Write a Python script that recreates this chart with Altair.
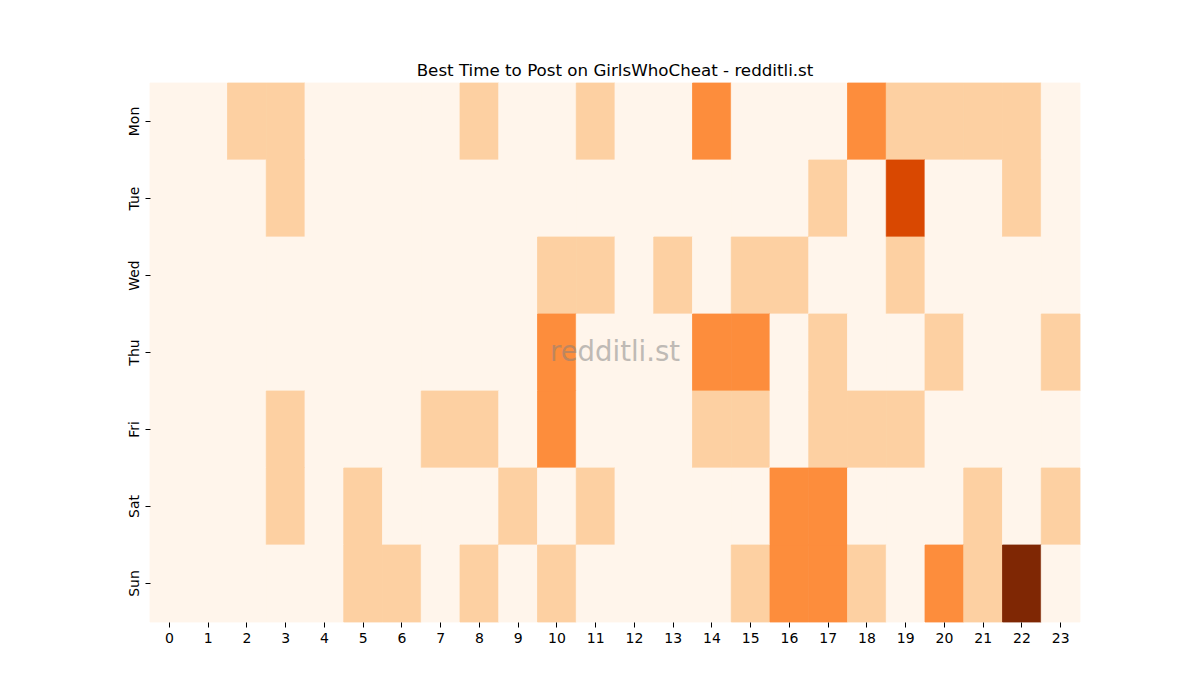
import altair as alt
import pandas as pd

days = ["Mon", "Tue", "Wed", "Thu", "Fri", "Sat", "Sun"]
hours = list(range(24))

mon = [0,0,1,1,0,0,0,0,1,0,0,1,0,0,2,0,0,0,2,1,1,1,1,0]
tue = [0,0,0,1,0,0,0,0,0,0,0,0,0,0,0,0,0,1,0,3,0,0,1,0]
wed = [0,0,0,0,0,0,0,0,0,0,1,1,0,1,0,1,1,0,0,1,0,0,0,0]
thu = [0,0,0,0,0,0,0,0,0,0,2,0,0,0,2,2,0,1,0,0,1,0,0,1]
fri = [0,0,0,1,0,0,0,1,1,0,2,0,0,0,1,1,0,1,1,1,0,0,0,0]
sat = [0,0,0,1,0,1,0,0,0,1,0,1,0,0,0,0,2,2,0,0,0,1,0,1]
sun = [0,0,0,0,0,1,1,0,1,0,1,0,0,0,0,1,2,2,1,0,2,1,4,0]

rows = [mon, tue, wed, thu, fri, sat, sun]
records = []
for d, vals in zip(days, rows):
    for h, v in zip(hours, vals):
        records.append({"day": d, "hour": h, "count": v})
df = pd.DataFrame(records)

color_domain = [0, 1, 2, 3, 4]
color_range = ["#fff5eb", "#fdd0a2", "#fd8d3c", "#d94801", "#7f2704"]

W, H = 930, 539

cscale = alt.Scale(domain=color_domain, range=color_range, type="linear")

heat = alt.Chart(df).mark_rect(strokeWidth=0.8).encode(
    x=alt.X("hour:O", sort=hours, title=None,
            scale=alt.Scale(paddingInner=0, paddingOuter=0),
            axis=alt.Axis(labelAngle=0, domain=False, ticks=True, tickSize=5,
                          tickColor="black", labelColor="black", labelFontSize=14,
                          labelFont="DejaVu Sans", labelPadding=4, grid=False)),
    y=alt.Y("day:O", sort=days, title=None,
            scale=alt.Scale(paddingInner=0, paddingOuter=0),
            axis=alt.Axis(labelAngle=270, domain=False, ticks=True, tickSize=5,
                          tickColor="black", labelColor="black", labelFontSize=14,
                          labelFont="DejaVu Sans", labelPadding=4, labelAlign="center",
                          labelBaseline="bottom", grid=False)),
    color=alt.Color("count:Q", legend=None, scale=cscale),
    stroke=alt.Stroke("count:Q", legend=None, scale=cscale),
)

watermark = alt.Chart(pd.DataFrame({"t": ["redditli.st"]})).mark_text(
    font="DejaVu Sans", fontSize=27.5, color="gray", opacity=0.5,
    align="center", baseline="middle"
).encode(text="t:N", x=alt.value(465), y=alt.value(270))

chart = alt.layer(heat, watermark).properties(
    width=W, height=H,
    title=alt.TitleParams("Best Time to Post on GirlsWhoCheat - redditli.st",
                          font="DejaVu Sans", fontSize=16.7, fontWeight="normal",
                          color="black", offset=3, anchor="middle"),
    autosize=alt.AutoSizeParams(type="none"),
    padding={"left": 142, "top": 75, "right": 112, "bottom": 70},
).configure_view(stroke=None)

chart.save("out.html", embed_options={"renderer": "svg", "actions": False})
